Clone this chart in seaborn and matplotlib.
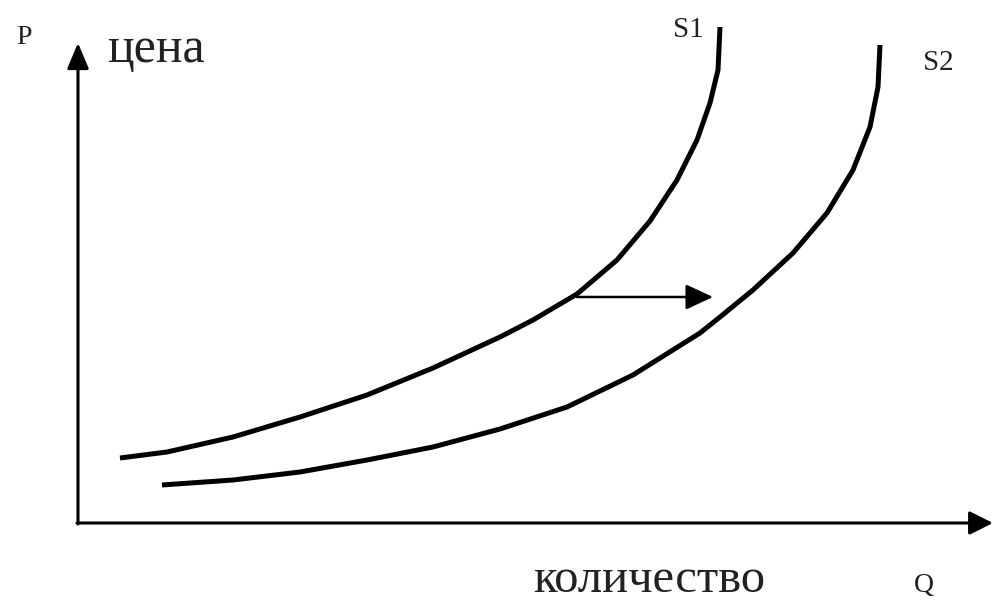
import matplotlib
matplotlib.use("Agg")
import matplotlib.pyplot as plt
import pandas as pd
import seaborn as sns

# quantity / price (origin = corner of the axes)
s1_q = [42, 89, 155, 222, 289, 355, 422, 455, 499, 539, 572, 599, 619, 632, 640, 642]
s1_p = [65, 71, 86, 106, 128, 155, 186, 203, 229, 263, 302, 343, 383, 420, 453, 496]
s2_q = [84, 155, 222, 289, 355, 422, 489, 555, 622, 642, 675, 715, 749, 775, 792, 800, 802]
s2_p = [38, 43, 51, 63, 76, 94, 116, 148, 190, 206, 233, 270, 310, 353, 396, 436, 478]
shift_from = (499, 226)
shift_to = (635, 226)

curves = pd.concat([
    pd.DataFrame({"Q": s1_q, "P": s1_p, "curve": "S1"}),
    pd.DataFrame({"Q": s2_q, "P": s2_p, "curve": "S2"}),
])

sns.set_theme(style="white")
plt.rcParams['font.family'] = ['Liberation Serif', 'DejaVu Serif']

fig = plt.figure(figsize=(9.93, 6.05), dpi=100)
ax = fig.add_axes([0, 0, 1, 1])
ax.set_xlim(-78, 915)
ax.set_ylim(-82, 523)
ax.axis('off')

for name, grp in curves.groupby("curve"):
    sns.lineplot(data=grp, x="Q", y="P", sort=False, color='black',
                 linewidth=3.6, ax=ax, legend=False,
                 solid_capstyle='butt', solid_joinstyle='round')

# axes with arrow heads
ax.annotate('', xy=(0, 480), xytext=(0, -1),
            arrowprops=dict(arrowstyle='-|>,head_length=1.3,head_width=0.55',
                            color='black', lw=2.2, shrinkA=0, shrinkB=0))
ax.annotate('', xy=(915, 0), xytext=(-1, 0),
            arrowprops=dict(arrowstyle='-|>,head_length=1.2,head_width=0.6',
                            color='black', lw=2.2, shrinkA=0, shrinkB=0))
# shift arrow
ax.annotate('', xy=shift_to, xytext=shift_from,
            arrowprops=dict(arrowstyle='-|>,head_length=1.4,head_width=0.65',
                            color='black', lw=1.8, shrinkA=0, shrinkB=0))

tc = '#222222'
ax.text(-54, 486, 'P', fontsize=20, ha='center', va='center', color=tc)
ax.text(29, 461, 'цена', fontsize=36, ha='left', va='baseline', color=tc)
ax.text(455, -69, 'количество', fontsize=35, ha='left', va='baseline', color=tc)
ax.text(846, -69, 'Q', fontsize=20, ha='center', va='baseline', color=tc)
ax.text(595, 486, 'S1', fontsize=21, ha='left', va='baseline', color=tc)
ax.text(845, 453, 'S2', fontsize=21, ha='left', va='baseline', color=tc)

fig.savefig('out.png', dpi=100)
